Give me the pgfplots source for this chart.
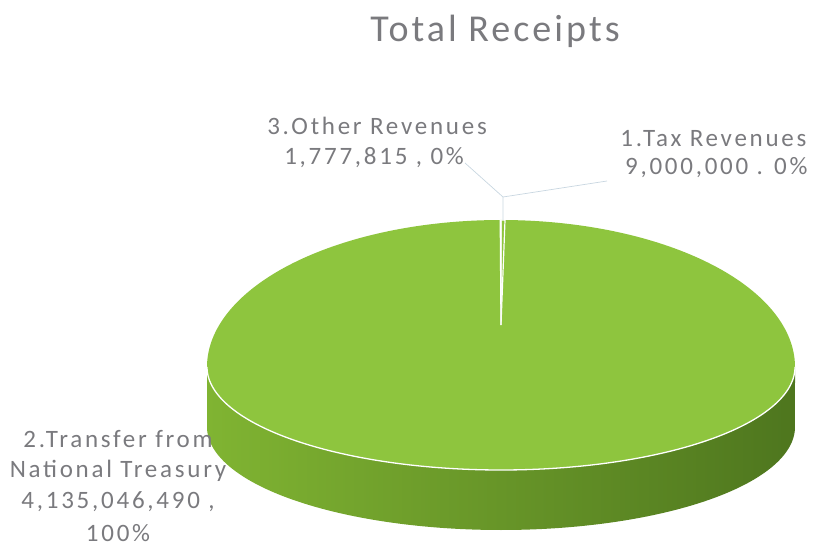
\documentclass[border=0pt]{standalone}
\usepackage{pgfplots}
\pgfplotsset{compat=1.18}
\usepackage{pgfplotstable}
\usepackage{fontspec}
\setmainfont{Carlito}
\newfontfamily\lblfont[LetterSpace=11]{Carlito}
\newfontfamily\ttlfont[LetterSpace=8]{Carlito}
\definecolor{topgreen}{RGB}{142,197,62}
\definecolor{sidemid}{RGB}{112,162,44}
\definecolor{sideleft}{RGB}{128,180,50}
\definecolor{sideright}{RGB}{78,118,30}
\definecolor{txtgray}{RGB}{122,122,126}
\definecolor{leader}{RGB}{200,214,224}

\pgfplotstableread{
id value
1 9000000
2 4135046490
3 1777815
}\receipts
\pgfplotstablegetelem{0}{value}\of\receipts \edef\vA{\pgfplotsretval}
\pgfplotstablegetelem{1}{value}\of\receipts \edef\vB{\pgfplotsretval}
\pgfplotstablegetelem{2}{value}\of\receipts \edef\vC{\pgfplotsretval}
\pgfkeys{/pgf/fpu=true,/pgf/fpu/output format=fixed}
\pgfmathsetmacro\angA{360*\vA/(\vA+\vB+\vC)}
\pgfmathsetmacro\angC{360*\vC/(\vA+\vB+\vC)}
\pgfkeys{/pgf/fpu=false}
\pgfmathsetmacro\tA{90-\angA}
\pgfmathsetmacro\tC{90+\angC}
\pgfmathsetmacro\tB{\tC-360}

\begin{document}%
\begin{tikzpicture}
\begin{axis}[
  width=813pt, height=546pt, scale only axis,
  xmin=0, xmax=813, ymin=0, ymax=546,
  hide axis, clip=false,
]
\coordinate (SW) at (axis cs:0,0);
\coordinate (NE) at (axis cs:813,546);
% side face (front half)
\addplot[draw=none, left color=sideleft, middle color=sidemid, right color=sideright,
  domain=180:540, samples=361]
  ({501+294*cos(x)},{ifthenelse(x<=360, 179+103*sin(x), 119-103*sin(x))}) -- cycle;
% slice 2: Transfer from National Treasury
\addplot[fill=topgreen, draw=none, domain=\tB:\tA, samples=361]
  ({501+294*cos(x)},{179+ifthenelse(sin(x)>0,147,103)*sin(x)}) -- (axis cs:501,221) -- cycle;
% front rim
\addplot[white, line width=1.3pt, domain=180:360, samples=181]
  ({501+294*cos(x)},{179+103*sin(x)});
% slice 1: Tax Revenues
\addplot[fill=topgreen, draw=white, line width=1.2pt, domain=\tA:90, samples=5]
  ({501+294*cos(x)},{179+147*sin(x)}) -- (axis cs:501,221) -- cycle;
% slice 3: Other Revenues
\addplot[fill=topgreen, draw=white, line width=1.2pt, domain=90:\tC, samples=3]
  ({501+294*cos(x)},{179+147*sin(x)}) -- (axis cs:501,221) -- cycle;
% leader lines
\addplot[leader, line width=0.7pt] coordinates {(503,326) (503,349) (465,383)};
\addplot[leader, line width=0.7pt] coordinates {(503,349) (607,365)};
% title
\node[anchor=base, text=txtgray, font=\ttlfont\fontsize{38}{44}\selectfont] at (axis cs:495,504) {Total Receipts};
% labels
\node[anchor=base, text=txtgray, font=\lblfont\fontsize{25}{30}\selectfont] at (axis cs:377,411) {3.Other Revenues};
\node[anchor=base, text=txtgray, font=\lblfont\fontsize{25}{30}\selectfont] at (axis cs:374,381) {1,777,815 , 0\%};
\node[anchor=base east, text=txtgray, font=\lblfont\fontsize{25}{30}\selectfont] at (axis cs:810,399) {1.Tax Revenues};
\node[anchor=base east, text=txtgray, font=\lblfont\fontsize{25}{30}\selectfont] at (axis cs:811,371) {9,000,000 . 0\%};
\node[anchor=base, text=txtgray, font=\lblfont\fontsize{25}{30}\selectfont] at (axis cs:118,99) {2.Transfer from};
\node[anchor=base, text=txtgray, font=\lblfont\fontsize{25}{30}\selectfont] at (axis cs:118,69) {National Treasury};
\node[anchor=base, text=txtgray, font=\lblfont\fontsize{25}{30}\selectfont] at (axis cs:118,38) {4,135,046,490 ,};
\node[anchor=base, text=txtgray, font=\lblfont\fontsize{25}{30}\selectfont] at (axis cs:118,5) {100\%};
\end{axis}
\pgfresetboundingbox
\path (SW) rectangle (NE);
\end{tikzpicture}%
\end{document}
